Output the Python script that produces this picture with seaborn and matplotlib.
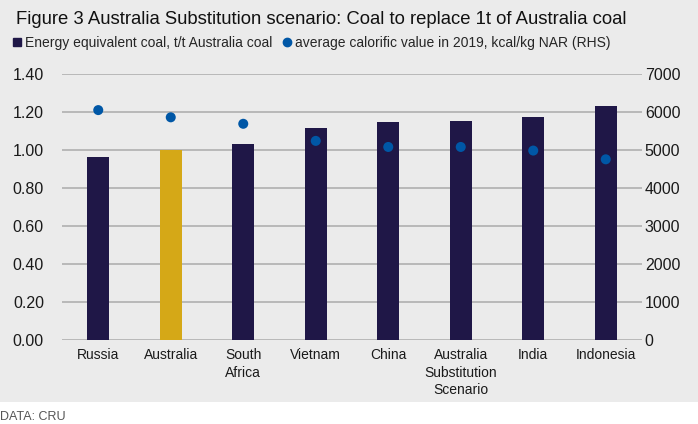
import pandas as pd
import seaborn as sns
import matplotlib.pyplot as plt
from matplotlib.lines import Line2D
from matplotlib.patches import Rectangle

# data
countries = ["Russia", "Australia", "South\nAfrica", "Vietnam", "China",
             "Australia\nSubstitution\nScenario", "India", "Indonesia"]
energy_equiv = [0.965, 1.00, 1.03, 1.117, 1.150, 1.153, 1.175, 1.232]
calorific = [6050, 5860, 5690, 5240, 5080, 5080, 4985, 4755]

navy = "#1F1747"
gold = "#D5A817"
blue = "#0057A6"
bg = "#EBEBEB"

df = pd.DataFrame({"country": countries, "energy": energy_equiv, "cv": calorific})
bar_colors = [gold if c == "Australia" else navy for c in countries]

sns.set_theme(style="white")
plt.rcParams["font.family"] = ["Liberation Sans", "DejaVu Sans"]

fig = plt.figure(figsize=(6.98, 4.24), dpi=100)
fig.patches.append(Rectangle((0, 1 - 402 / 424), 1, 402 / 424, transform=fig.transFigure,
                             facecolor=bg, edgecolor="none", zorder=-10))

ax = fig.add_axes([62 / 698, 1 - 340 / 424, 580 / 698, 266 / 424])
ax.set_facecolor("none")
sns.barplot(data=df, x="country", y="energy", hue="country", palette=bar_colors,
            width=0.31, legend=False, ax=ax, saturation=1, zorder=3, linewidth=0)
ax.set_ylim(0, 1.4)
ax.set_xlim(-0.5, 7.5)
ax.set_yticks([0, 0.2, 0.4, 0.6, 0.8, 1.0, 1.2, 1.4])
ax.set_yticklabels([f"{v:.2f}" for v in ax.get_yticks()])
ax.grid(axis="y", color="#B0B0B0", linewidth=1.2, zorder=0)
ax.set_xlabel("")
ax.set_ylabel("")
for s in ax.spines.values():
    s.set_visible(False)
ax.tick_params(axis="y", length=0, pad=13, labelsize=11.5, labelcolor="#1A1A1A")
ax.tick_params(axis="x", length=0, pad=6, labelsize=10, labelcolor="#1A1A1A")
for lbl in ax.get_xticklabels():
    lbl.set_linespacing(1.3)

ax2 = ax.twinx()
sns.scatterplot(data=df, x="country", y="cv", color=blue, s=52, edgecolor="none",
                ax=ax2, zorder=5)
ax2.set_ylim(0, 7000)
ax2.set_yticks(range(0, 7001, 1000))
ax2.set_ylabel("")
ax2.set_xlabel("")
for s in ax2.spines.values():
    s.set_visible(False)
ax2.tick_params(axis="y", length=0, pad=2, labelsize=11.5, labelcolor="#1A1A1A")

fig.text(16 / 698, 1 - 20 / 424, "Figure 3 Australia Substitution scenario: Coal to replace 1t of Australia coal",
         fontsize=13.3, va="center", ha="left", color="#111111")

handles = [
    Line2D([], [], marker="s", linestyle="none", color=navy, markersize=6),
    Line2D([], [], marker="o", linestyle="none", color=blue, markersize=6),
]
fig.legend(handles, ["Energy equivalent coal, t/t Australia coal",
                     "average calorific value in 2019, kcal/kg NAR (RHS)"],
           loc="center left", bbox_to_anchor=(10 / 698, 1 - 43 / 424), ncol=2,
           frameon=False, fontsize=10, handletextpad=0.05, columnspacing=0.6,
           handlelength=1.0, borderaxespad=0, borderpad=0)

fig.text(0, 1 - 417 / 424, "DATA: CRU", fontsize=9, color="#555555", va="center", ha="left")

fig.savefig("out.png", dpi=100)
